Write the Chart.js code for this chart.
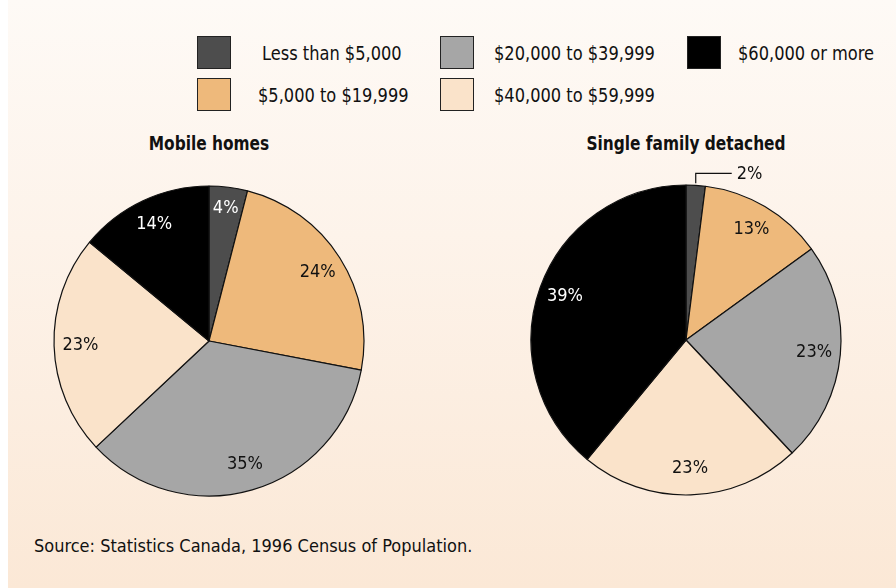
<!DOCTYPE html>
<html>
<head>
<meta charset="utf-8">
<script src="https://cdn.jsdelivr.net/npm/chart.js@4.4.1/dist/chart.umd.min.js"></script>
<style>
    html, body { margin: 0; padding: 0; }
    body {
        width: 896px; height: 588px; position: relative; overflow: hidden;
        background: #fff;
        font-family: "Liberation Sans Narrow", "DejaVu Sans Condensed", "Roboto Condensed", sans-serif;
        font-stretch: condensed;
        color: #111;
    }
    #panel {
        position: absolute; left: 8px; top: 0; right: 0; bottom: 0;
        background: linear-gradient(to bottom, #fefaf6 0%, #fdf3ea 40%, #fbe8d6 100%);
    }
    .box { position: absolute; width: 32px; height: 31px; border: 1.5px solid #222; }
    .lbl { position: absolute; font-size: 19px; line-height: 22px; white-space: nowrap;
           transform: scaleX(0.95); transform-origin: left center; }
    .ttl { position: absolute; font-size: 19px; font-weight: bold; width: 320px; text-align: center;
           transform: scaleX(0.9); transform-origin: center; }
    .pie { position: absolute; width: 320px; height: 340px; }
    #source { position: absolute; left: 34px; top: 535px; font-size: 18px; }
</style>
</head>
<body>
<div id="panel"></div>
<div id="legend"></div>
<div class="ttl" style="left:49px; top:132px;">Mobile homes</div>
<div class="ttl" style="left:526px; top:132px;">Single family detached</div>
<div class="pie" style="left:49px; top:161px;"><canvas id="mobileChart"></canvas></div>
<div class="pie" style="left:526px; top:160px;"><canvas id="singleChart"></canvas></div>
<div id="source">Source: Statistics Canada, 1996 Census of Population.</div>

<script>
const incomeGroups = ["Less than $5,000", "$5,000 to $19,999", "$20,000 to $39,999", "$40,000 to $59,999", "$60,000 or more"];
const mobileHomes = [4, 24, 35, 23, 14];
const singleFamily = [2, 13, 23, 23, 39];

const sliceColors = ['#4d4d4d', '#eeb97b', '#a6a6a6', '#fae3ca', '#000000'];
const labelColors = ['#ffffff', '#111111', '#111111', '#111111', '#ffffff'];

// legend (3 columns, 2 rows)
const legendSpots = [
    { bx: 197, by: 36, tx: 262 },
    { bx: 197, by: 78, tx: 258 },
    { bx: 440, by: 36, tx: 494 },
    { bx: 440, by: 78, tx: 494 },
    { bx: 687, by: 36, tx: 738 }
];
const legend = document.querySelector('#legend');
incomeGroups.forEach((name, i) => {
    const s = legendSpots[i];
    const box = document.createElement('div');
    box.className = 'box';
    box.style.left = s.bx + 'px';
    box.style.top = s.by + 'px';
    box.style.background = sliceColors[i];
    legend.appendChild(box);
    const txt = document.createElement('div');
    txt.className = 'lbl';
    txt.style.left = s.tx + 'px';
    txt.style.top = (s.by + 6) + 'px';
    txt.textContent = name;
    legend.appendChild(txt);
});

// draws the % labels inside slices, small slices get a leader line outside
const pctLabels = {
    id: 'pctLabels',
    afterDatasetsDraw(chart) {
        const ctx = chart.ctx;
        const values = chart.data.datasets[0].data;
        const arcs = chart.getDatasetMeta(0).data;
        ctx.save();
        ctx.font = '18px "Liberation Sans Narrow", "DejaVu Sans Condensed", sans-serif';
        ctx.textAlign = 'center';
        ctx.textBaseline = 'middle';
        arcs.forEach((arc, i) => {
            const mid = (arc.startAngle + arc.endAngle) / 2;
            const r = arc.outerRadius;
            const text = values[i] + '%';
            if (values[i] < 3) {
                const ax = arc.x + Math.cos(mid) * r;
                const ay = arc.y + Math.sin(mid) * r;
                ctx.strokeStyle = '#111';
                ctx.lineWidth = 1.2;
                ctx.beginPath();
                ctx.moveTo(ax, ay - 2);
                ctx.lineTo(ax, ay - 12);
                ctx.lineTo(ax + 36, ay - 12);
                ctx.stroke();
                ctx.fillStyle = '#111';
                ctx.textAlign = 'left';
                ctx.fillText(text, ax + 41, ay - 11);
                ctx.textAlign = 'center';
                return;
            }
            const k = values[i] < 6 ? 0.86 : 0.83;
            ctx.fillStyle = labelColors[i];
            ctx.fillText(text, arc.x + Math.cos(mid) * r * k, arc.y + Math.sin(mid) * r * k);
        });
        ctx.restore();
    }
};

function renderPie(canvasId, values) {
    const ctx = document.getElementById(canvasId).getContext('2d');
    new Chart(ctx, {
        type: 'pie',
        data: {
            labels: incomeGroups,
            datasets: [{
                data: values,
                backgroundColor: sliceColors,
                borderColor: '#111111',
                borderWidth: 1.2,
                radius: 155
            }]
        },
        options: {
            responsive: true,
            maintainAspectRatio: false,
            animation: false,
            layout: { padding: { top: 20, left: 0, right: 0, bottom: 0 } },
            plugins: {
                legend: { display: false },
                tooltip: { enabled: false }
            }
        },
        plugins: [pctLabels]
    });
}

renderPie('mobileChart', mobileHomes);
renderPie('singleChart', singleFamily);
</script>
</body>
</html>
